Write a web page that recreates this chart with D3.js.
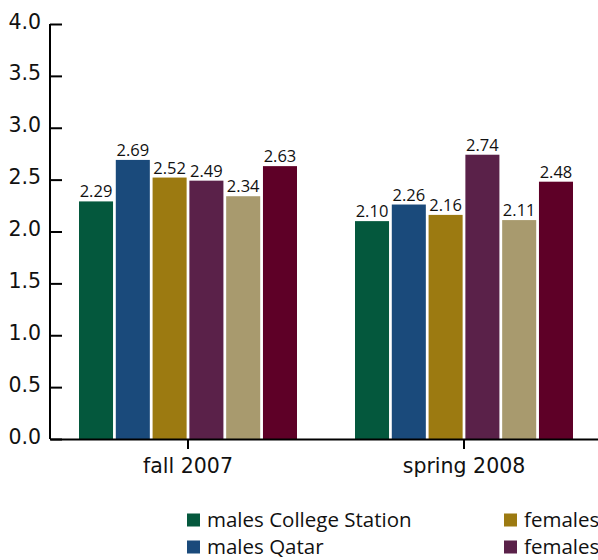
<!DOCTYPE html>
<html><head><meta charset="utf-8">
<script src="https://cdn.jsdelivr.net/npm/d3@7"></script>
<style>html,body{margin:0;padding:0;background:#fff;overflow:hidden}svg{display:block}</style>
</head><body>
<svg id="chart" width="598" height="560"></svg>
<script>
const categories = ["fall 2007", "spring 2008"];
const seriesNames = ["males College Station", "males Qatar", "females College Station", "females Qatar", "total College Station", "total Qatar"];
const seriesColors = ["#04583d", "#1a4a7b", "#9c7a11", "#5a2149", "#a89a6e", "#5e0027"];
const malesCollegeStation = [2.29, 2.10];
const malesQatar = [2.69, 2.26];
const femalesCollegeStation = [2.52, 2.16];
const femalesQatar = [2.49, 2.74];
const totalCollegeStation = [2.34, 2.11];
const totalQatar = [2.63, 2.48];
const yTicks = [0, 0.5, 1.0, 1.5, 2.0, 2.5, 3.0, 3.5, 4.0];

const seriesValues = [malesCollegeStation, malesQatar, femalesCollegeStation, femalesQatar, totalCollegeStation, totalQatar];
const FONT = "'Open Sans', sans-serif";
const AXFONT = "'DejaVu Sans', sans-serif";
const svg = d3.select("#chart");

const x0 = d3.scaleBand().domain(categories).range([50, 602]).paddingInner(0).paddingOuter(0);
const x1 = d3.scaleBand().domain(d3.range(seriesNames.length)).range([29, 247]).paddingInner(0.075).paddingOuter(0);
const y = d3.scaleLinear().domain([0, 4]).range([439, 24]);

const data = [];
categories.forEach((c, ci) => seriesValues.forEach((arr, si) => data.push({c, si, v: arr[ci]})));

svg.append("g").selectAll("rect").data(data).join("rect")
  .attr("x", d => x0(d.c) + x1(d.si))
  .attr("y", d => y(d.v))
  .attr("width", x1.bandwidth())
  .attr("height", d => y(0) - y(d.v))
  .attr("fill", d => seriesColors[d.si]);

svg.append("g").selectAll("text").data(data).join("text")
  .attr("x", d => x0(d.c) + x1(d.si) + x1.bandwidth() / 2)
  .attr("y", d => y(d.v) - 4)
  .attr("text-anchor", "middle")
  .style("font-family", FONT).style("font-size", "16.5px").attr("fill", "#111")
  .text(d => d.v.toFixed(2));

// y axis
const yAxis = svg.append("g").attr("transform", "translate(50,0)")
  .call(d3.axisRight(y).tickValues(yTicks).tickSize(12).tickFormat(d3.format(".1f")));
yAxis.select(".domain").attr("d", `M0,${y(4)}V${y(0)}`).attr("stroke", "#000").attr("stroke-width", 2);
yAxis.selectAll(".tick line").attr("stroke", "#000").attr("stroke-width", 2);
yAxis.selectAll(".tick text").attr("x", -9).attr("text-anchor", "end").attr("dy", "0.2em")
  .style("font-family", AXFONT).style("font-size", "20.5px").attr("fill", "#111");

// x axis
const xAxis = svg.append("g").attr("transform", `translate(0,${y(0)})`)
  .call(d3.axisBottom(x0).tickSize(10).tickSizeOuter(0).tickPadding(9));
xAxis.select(".domain").attr("stroke", "#000").attr("stroke-width", 2);
xAxis.selectAll(".tick line").attr("stroke", "#000").attr("stroke-width", 2);
xAxis.selectAll(".tick text").style("font-family", AXFONT).style("font-size", "20.5px").attr("fill", "#111");

// legend
const legend = svg.append("g");
const items = seriesNames.map((n, i) => ({n, i, col: Math.floor(i / 2), row: i % 2}));
const lg = legend.selectAll("g").data(items).join("g")
  .attr("transform", d => `translate(${187 + d.col * 317},${520 + d.row * 27})`);
lg.append("rect").attr("x", 0).attr("y", -6.5).attr("width", 13).attr("height", 13).attr("fill", d => seriesColors[d.i]);
lg.append("text").attr("x", 20).attr("y", 0).attr("dy", "0.35em")
  .style("font-family", FONT).style("font-size", "20.5px").attr("fill", "#111").text(d => d.n);
</script>
</body></html>
